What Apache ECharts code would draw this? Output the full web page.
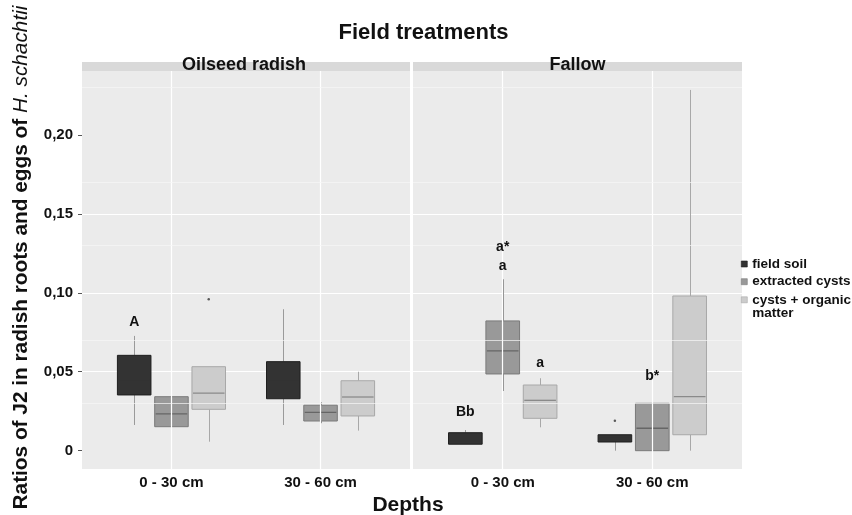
<!DOCTYPE html>
<html>
<head>
<meta charset="utf-8">
<script src="https://cdn.jsdelivr.net/npm/echarts@6/dist/echarts.min.js"></script>
<style>
  html, body { margin: 0; padding: 0; background: #fff; }
  #chart { width: 852px; height: 515px; }
</style>
</head>
<body>
<div id="chart"></div>
<script>
const panels = ['Oilseed radish', 'Fallow'];
const depths = ['0 - 30 cm', '30 - 60 cm'];
const treatments = ['field soil', 'extracted cysts', 'cysts + organic matter'];
const yTicks = [0, 0.05, 0.10, 0.15, 0.20];
const yMinor = [0.025, 0.075, 0.125, 0.175, 0.225];

// box stats per depth: [min, Q1, median, Q3, max]
const radishFieldSoil = [[0.0163, 0.0353, 0.045, 0.0604, 0.0727], [0.0163, 0.0329, 0.045, 0.0564, 0.0896]];
const radishExtracted = [[0.0089, 0.0152, 0.0233, 0.0342, 0.0507], [0.0174, 0.0188, 0.0243, 0.0288, 0.0307]];
const radishOrganic = [[0.0057, 0.0262, 0.0364, 0.0532, 0.0532], [0.0127, 0.0220, 0.0340, 0.0443, 0.0500]];
const fallowFieldSoil = [[0.0041, 0.0041, 0.006, 0.0114, 0.0131], [0, 0.0055, 0.008, 0.0101, 0.0101]];
const fallowExtracted = [[0.0378, 0.0486, 0.0632, 0.0822, 0.1086], [0, 0, 0.0142, 0.0300, 0.0353]];
const fallowOrganic = [[0.0148, 0.0205, 0.0319, 0.0416, 0.0459], [0, 0.0101, 0.0342, 0.0980, 0.2285]];

// outliers: [panel, depth, treatment, value]
const outliers = [[0, 0, 2, 0.0959], [1, 1, 0, 0.0190]];
// significance letters: [panel, depth, treatment, value, text]
const letters = [
  [0, 0, 0, 0.0813, 'A'],
  [1, 0, 0, 0.0247, 'Bb'],
  [1, 0, 1, 0.1166, 'a'],
  [1, 0, 1, 0.1289, 'a*'],
  [1, 0, 2, 0.0554, 'a'],
  [1, 1, 1, 0.0473, 'b*']
];

const stats = [
  [radishFieldSoil, radishExtracted, radishOrganic],
  [fallowFieldSoil, fallowExtracted, fallowOrganic]
];

const fills = ['#333333', '#999999', '#cccccc'];
const borders = ['#1f1f1f', '#7a7a7a', '#a8a8a8'];
const whiskers = ['#9a9a9a', '#8c8c8c', '#a8a8a8'];
const medians = ['#333333', '#666666', '#8a8a8a'];
const dodge = [-0.25, 0, 0.25];
const halfBox = 0.1125;
const font = 'Liberation Sans, Arial, sans-serif';

const chart = echarts.init(document.getElementById('chart'));

function boxRenderer(t) {
  return function (params, api) {
    const x = api.value(0);
    const lo = api.coord([x - halfBox, api.value(2)]);
    const hi = api.coord([x + halfBox, api.value(4)]);
    const mid = api.coord([x, api.value(3)]);
    const bot = api.coord([x, api.value(1)]);
    const top = api.coord([x, api.value(5)]);
    const cx = Math.round(mid[0]) + 0.5;
    return {
      type: 'group',
      children: [
        { type: 'line', shape: { x1: cx, y1: top[1], x2: cx, y2: hi[1] }, style: { stroke: whiskers[t], lineWidth: 1 } },
        { type: 'line', shape: { x1: cx, y1: lo[1], x2: cx, y2: bot[1] }, style: { stroke: whiskers[t], lineWidth: 1 } },
        { type: 'rect', shape: { x: lo[0], y: hi[1], width: hi[0] - lo[0], height: lo[1] - hi[1] },
          style: { fill: fills[t], stroke: borders[t], lineWidth: 1 } },
        { type: 'line', shape: { x1: lo[0] + 1, y1: mid[1], x2: hi[0] - 1, y2: mid[1] }, style: { stroke: medians[t], lineWidth: 1.3 } }
      ]
    };
  };
}

function letterRenderer(params, api) {
  const p = api.coord([api.value(0), api.value(1)]);
  return {
    type: 'text', x: p[0], y: p[1],
    style: { text: api.value(2), align: 'center', verticalAlign: 'middle',
      font: 'bold 14px ' + font, fill: '#111' }
  };
}

const grids = [
  { left: 82, top: 71, width: 328, height: 398 },
  { left: 413, top: 71, width: 329, height: 398 }
].map(g => Object.assign(g, { show: true, backgroundColor: '#ebebeb', borderWidth: 0, containLabel: false }));

const xAxes = panels.map((p, i) => ({
  type: 'value', gridIndex: i, min: 0.4, max: 2.6,
  axisLine: { show: false },
  axisTick: { show: true, length: 4, lineStyle: { color: '#555' }, customValues: [1, 2] },
  axisLabel: {
    customValues: [1, 2], margin: 6,
    formatter: v => depths[Math.round(v) - 1] || '',
    fontFamily: font, fontWeight: 'bold', fontSize: 15, color: '#111'
  },
  splitLine: { show: false }
}));

const yAxes = panels.map((p, i) => ({
  type: 'value', gridIndex: i, min: -0.0116, max: 0.2405, splitNumber: 5,
  axisLine: { show: false },
  axisTick: { show: i === 0, length: 4, lineStyle: { color: '#555' }, customValues: yTicks },
  axisLabel: {
    show: i === 0, customValues: yTicks, margin: 9,
    formatter: v => (Math.abs(v) < 1e-9 ? '0' : v.toFixed(2).replace('.', ',')),
    fontFamily: font, fontWeight: 'bold', fontSize: 15, color: '#111'
  },
  splitLine: { show: true, showMinLine: false, showMaxLine: false, lineStyle: { color: '#ffffff', width: 1.2 } }
}));

const series = [];
panels.forEach((p, pi) => {
  treatments.forEach((t, ti) => {
    const data = depths.map((d, di) => [di + 1 + dodge[ti]].concat(stats[pi][ti][di]));
    const s = {
      name: t, type: 'custom', xAxisIndex: pi, yAxisIndex: pi,
      itemStyle: { color: fills[ti], borderColor: borders[ti] },
      renderItem: boxRenderer(ti),
      encode: { x: 0, y: [1, 2, 3, 4, 5] },
      data: data, z: 3
    };
    if (ti === 0) {
      s.markLine = {
        silent: true, symbol: 'none', animation: false, label: { show: false },
        data: [
          ...[1, 2].map(v => ({ xAxis: v, lineStyle: { color: '#ffffff', width: 1.2, type: 'solid' } })),
          ...yMinor.map(v => ({ yAxis: v, lineStyle: { color: '#f6f6f6', width: 0.7, type: 'solid' } }))
        ]
      };
    }
    series.push(s);
  });
  series.push({
    type: 'scatter', xAxisIndex: pi, yAxisIndex: pi, symbolSize: 2.5, z: 4,
    itemStyle: { color: '#333' },
    data: outliers.filter(o => o[0] === pi).map(o => [o[1] + 1 + dodge[o[2]], o[3]])
  });
  series.push({
    type: 'custom', xAxisIndex: pi, yAxisIndex: pi, z: 5, silent: true,
    renderItem: letterRenderer,
    encode: { x: 0, y: 1 },
    data: letters.filter(l => l[0] === pi).map(l => [l[1] + 1 + dodge[l[2]], l[3], l[4]])
  });
});

const legendTops = [257, 274.7, 279.8];
const legends = treatments.map((t, ti) => ({
  orient: 'vertical', left: 741, top: legendTops[ti], padding: 0,
  itemWidth: 6, itemHeight: 6, icon: 'rect', selectedMode: false,
  formatter: name => name === 'cysts + organic matter' ? '\ncysts + organic\nmatter' : name,
  textStyle: { fontFamily: font, fontWeight: 'bold', fontSize: 13.5, color: '#111', lineHeight: 13 },
  data: [{ name: t, itemStyle: { color: fills[ti], borderColor: borders[ti], borderWidth: 0.6 } }]
}));

const option = {
  animation: false,
  backgroundColor: '#ffffff',
  legend: legends,
  grid: grids,
  xAxis: xAxes,
  yAxis: yAxes,
  series: series,
  graphic: [
    { type: 'text', x: 423.5, y: 33, style: { text: 'Field treatments', align: 'center', verticalAlign: 'middle',
      font: 'bold 22px ' + font, fill: '#111' } },
    { type: 'rect', left: 82, top: 62, shape: { width: 328, height: 9 }, style: { fill: '#d9d9d9' }, z: 1 },
    { type: 'rect', left: 413, top: 62, shape: { width: 329, height: 9 }, style: { fill: '#d9d9d9' }, z: 1 },
    { type: 'text', x: 244, y: 65.5, z: 2, style: { text: panels[0], align: 'center', verticalAlign: 'middle',
      font: 'bold 18px ' + font, fill: '#111' } },
    { type: 'text', x: 577.5, y: 65.5, z: 2, style: { text: panels[1], align: 'center', verticalAlign: 'middle',
      font: 'bold 18px ' + font, fill: '#111' } },
    { type: 'text', x: 408, y: 505, style: { text: 'Depths', align: 'center', verticalAlign: 'middle',
      font: 'bold 21px ' + font, fill: '#111' } },
    { type: 'text', x: 21, y: 257.5, rotation: Math.PI / 2, style: {
      text: '{b|Ratios of J2 in radish roots and eggs of }{i|H. schachtii}',
      align: 'center', verticalAlign: 'middle',
      rich: {
        b: { fontFamily: font, fontWeight: 'bold', fontSize: 20.8, fill: '#111' },
        i: { fontFamily: font, fontStyle: 'italic', fontSize: 20.8, fill: '#111' }
      }
    } }
  ]
};

chart.setOption(option);
</script>
</body>
</html>
